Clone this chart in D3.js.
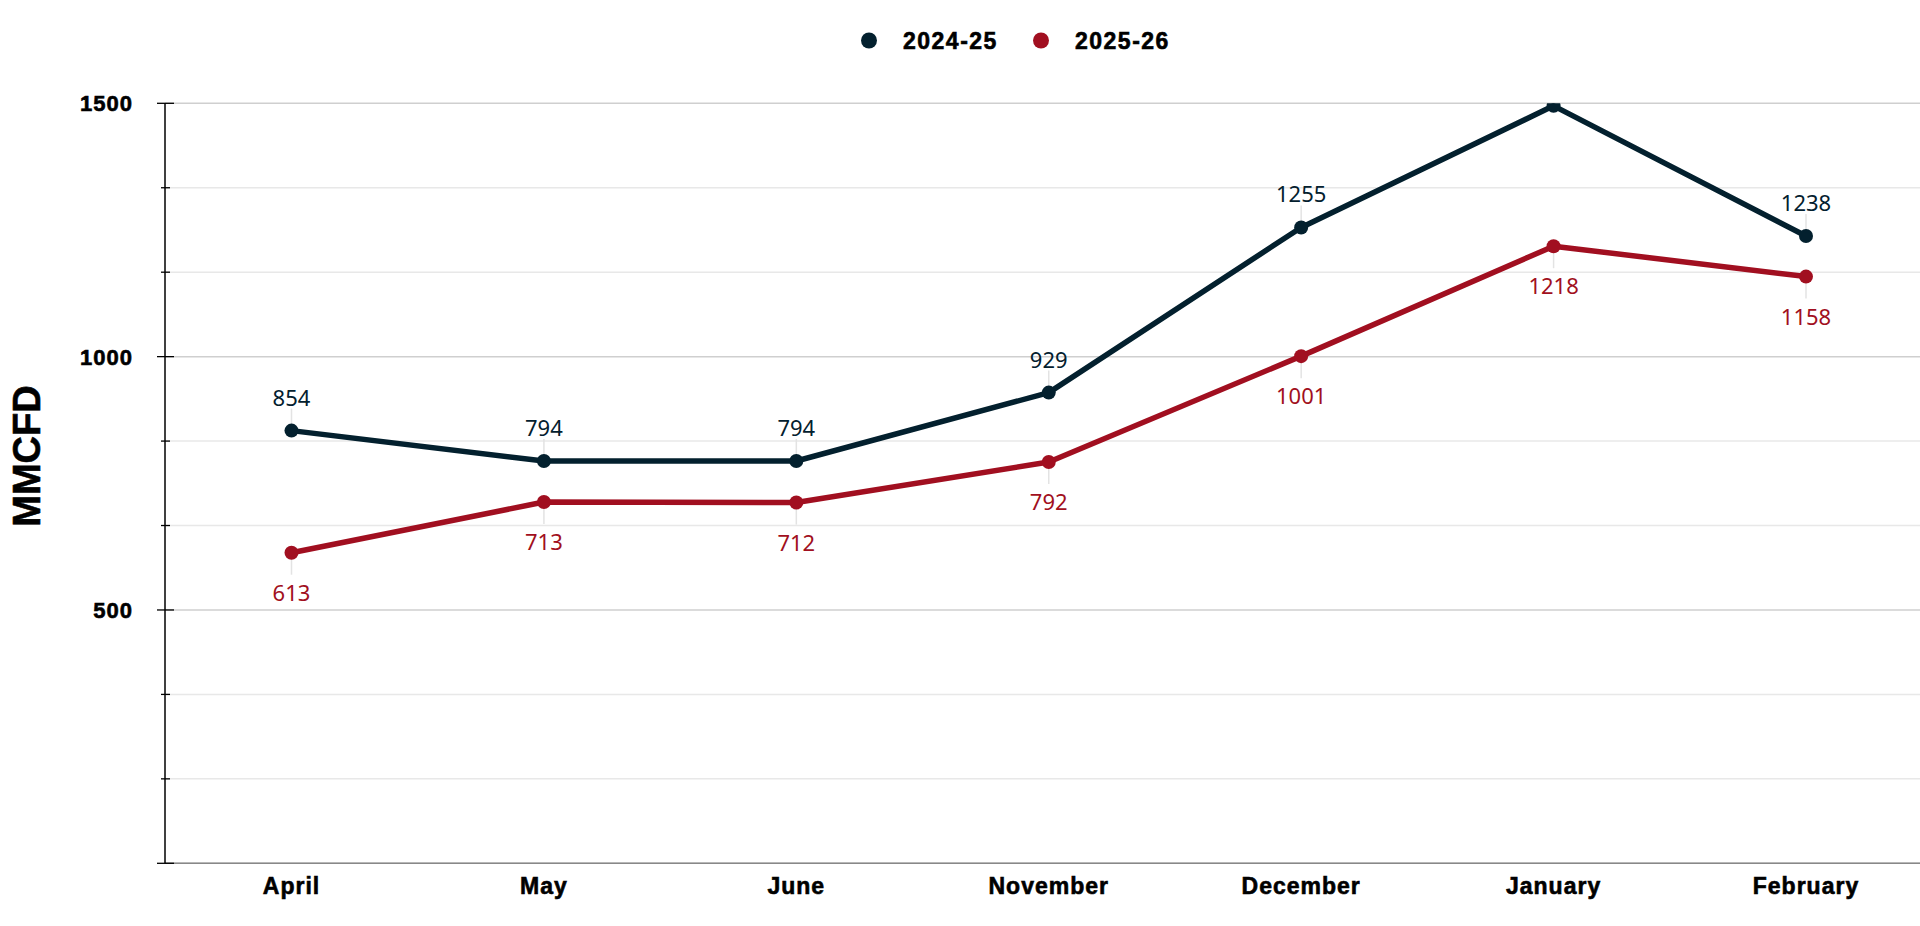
<!DOCTYPE html>
<html>
<head>
<meta charset="utf-8">
<script src="https://cdn.jsdelivr.net/npm/d3@7"></script>
<style>
  html, body { margin: 0; padding: 0; background: #fff; }
  svg { display: block; }
  .bold-txt { font-family: "Liberation Sans", Arial, sans-serif; font-weight: 700; fill: #000; stroke: #000; stroke-width: 0.6px; }
  .val-txt { font-family: "Noto Sans", "Open Sans", sans-serif; font-size: 22px; }
</style>
</head>
<body>
<svg id="chart" width="1920" height="926"></svg>
<script>
"use strict";

// Data
const MONTHS = ["April", "May", "June", "November", "December", "January", "February"];
const SERIES_NAMES = ["2024-25", "2025-26"];
const VALUES_2024 = [854, 794, 794, 929, 1255, 1495, 1238];
const VALUES_2025 = [613, 713, 712, 792, 1001, 1218, 1158];
const Y_TICKS = [0, 500, 1000, 1500];
const COLORS = ["#03202e", "#a10f20"];

// Dimensions
const LEFT = 165, RIGHT = 1920, TOP = 103.3, BOTTOM = 863.3;

const svg = d3.select("#chart");

const x = d3.scalePoint().domain(MONTHS).range([291.5, 1806]);
const y = d3.scaleLinear().domain([0, 1500]).range([BOTTOM, TOP]);

// Gridlines (minor + major)
const minorTicks = d3.range(0, 1501, 500 / 3);
const isMajor = d => Y_TICKS.some(t => Math.abs(t - d) < 1e-6);

svg.append("g").selectAll("line")
  .data(minorTicks)
  .join("line")
  .attr("x1", LEFT).attr("x2", RIGHT)
  .attr("y1", d => y(d)).attr("y2", d => y(d))
  .attr("stroke", d => isMajor(d) ? "#cfcfcf" : "#e8e8e8")
  .attr("stroke-width", 1.5);

// X axis line
svg.append("line")
  .attr("x1", LEFT).attr("x2", RIGHT)
  .attr("y1", y(0)).attr("y2", y(0))
  .attr("stroke", "#888").attr("stroke-width", 1.5);

// Y axis
const yAxis = svg.append("g").attr("transform", "translate(" + LEFT + ",0)");
yAxis.append("line")
  .attr("x1", 0).attr("x2", 0)
  .attr("y1", y(1500)).attr("y2", y(0))
  .attr("stroke", "#000").attr("stroke-width", 1.5);
yAxis.selectAll("line.tick")
  .data(minorTicks)
  .join("line")
  .classed("tick", true)
  .attr("x1", d => isMajor(d) ? -8 : -4)
  .attr("x2", d => isMajor(d) ? 9 : 5)
  .attr("y1", d => y(d)).attr("y2", d => y(d))
  .attr("stroke", "#000").attr("stroke-width", 1.3);
yAxis.selectAll("text")
  .data(Y_TICKS.filter(d => d > 0))
  .join("text")
  .classed("bold-txt", true)
  .attr("x", -32)
  .attr("y", d => y(d))
  .attr("dy", "0.36em")
  .attr("text-anchor", "end")
  .attr("font-size", 22)
  .attr("letter-spacing", 1)
  .text(d => d);

// Y title
svg.append("text")
  .classed("bold-txt", true)
  .attr("transform", "translate(40,456) rotate(-90)")
  .attr("text-anchor", "middle")
  .attr("font-size", 38)
  .text("MMCFD");

// X labels
svg.append("g").selectAll("text")
  .data(MONTHS)
  .join("text")
  .classed("bold-txt", true)
  .attr("x", d => x(d))
  .attr("y", 894)
  .attr("text-anchor", "middle")
  .attr("font-size", 23)
  .attr("letter-spacing", 1)
  .text(d => d);

// Clip to plot area
svg.append("defs").append("clipPath").attr("id", "plot-clip")
  .append("rect")
  .attr("x", LEFT).attr("y", TOP)
  .attr("width", RIGHT - LEFT).attr("height", BOTTOM - TOP + 40);

const gPlot = svg.append("g").attr("clip-path", "url(#plot-clip)");

const LINE = d3.line()
  .x((d, i) => x(MONTHS[i]))
  .y(d => y(d));

const seriesData = [VALUES_2024, VALUES_2025];

seriesData.forEach(function(vals, s) {
  const above = s === 0;
  const g = gPlot.append("g");

  // leader lines
  g.selectAll("line.leader")
    .data(vals)
    .join("line")
    .classed("leader", true)
    .attr("x1", (d, i) => x(MONTHS[i])).attr("x2", (d, i) => x(MONTHS[i]))
    .attr("y1", d => y(d))
    .attr("y2", d => above ? y(d) - 22 : y(d) + 22)
    .attr("stroke", "#e3e3e3").attr("stroke-width", 1.5);

  g.append("path")
    .datum(vals)
    .attr("fill", "none")
    .attr("stroke", COLORS[s])
    .attr("stroke-width", 5.5)
    .attr("stroke-linejoin", "round")
    .attr("d", LINE);

  g.selectAll("circle")
    .data(vals)
    .join("circle")
    .attr("cx", (d, i) => x(MONTHS[i]))
    .attr("cy", d => y(d))
    .attr("r", 7)
    .attr("fill", COLORS[s]);

  g.selectAll("text")
    .data(vals)
    .join("text")
    .classed("val-txt", true)
    .attr("x", (d, i) => x(MONTHS[i]))
    .attr("y", d => above ? y(d) - 25 : y(d) + 48)
    .attr("text-anchor", "middle")
    .attr("fill", COLORS[s])
    .text(d => d);
});

// Legend
const legend = svg.append("g");
const LEG_X = [869, 1041];
SERIES_NAMES.forEach(function(name, i) {
  legend.append("circle")
    .attr("cx", LEG_X[i]).attr("cy", 40.5)
    .attr("r", 8).attr("fill", COLORS[i]);
  legend.append("text")
    .classed("bold-txt", true)
    .attr("x", LEG_X[i] + 34)
    .attr("y", 40.5)
    .attr("dy", "0.36em")
    .attr("font-size", 23)
    .attr("letter-spacing", 1.5)
    .text(name);
});
</script>
</body>
</html>
